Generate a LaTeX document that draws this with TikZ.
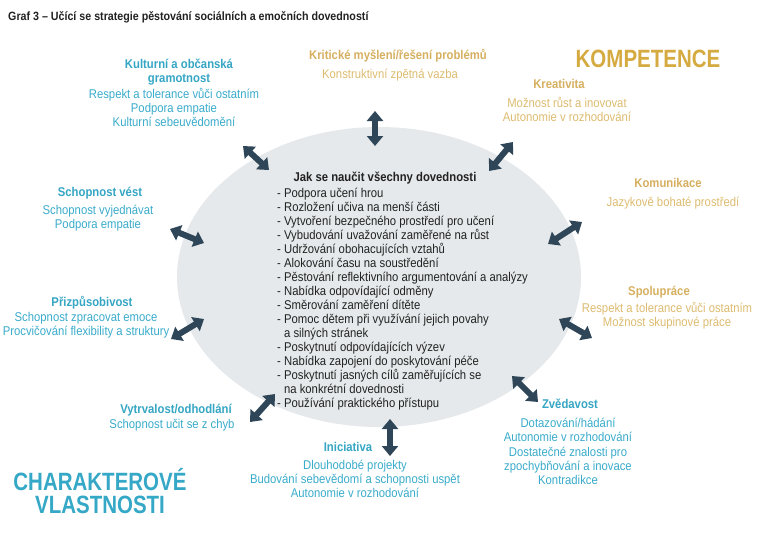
\documentclass[tikz,border=0pt]{standalone}
\usepackage{fontspec}
\setmainfont{Liberation Sans}[FakeStretch=0.89]
\newfontfamily\bigfont{Liberation Sans}[FakeStretch=0.82]
\usetikzlibrary{arrows.meta,shapes.geometric}
\definecolor{tealH}{HTML}{35A6C4}
\definecolor{tealT}{HTML}{3AACCB}
\definecolor{goldH}{HTML}{D6B060}
\definecolor{goldT}{HTML}{DDBC70}
\definecolor{goldBig}{HTML}{D5AA40}
\definecolor{tealBig}{HTML}{34A8C6}
\definecolor{ellfill}{HTML}{E5E9EB}
\definecolor{arrowc}{HTML}{2E4658}
\definecolor{darktext}{HTML}{222222}
\begin{document}
\begin{tikzpicture}[x=1pt,y=-1pt,
  txt/.style={inner sep=0pt, align=center, font=\fontsize{12.7}{14.2}\selectfont},
  thead/.style={txt, font=\fontsize{12.7}{14.2}\selectfont\bfseries, text=tealH},
  tbody/.style={txt, text=tealT},
  ghead/.style={txt, font=\fontsize{12.7}{14.2}\selectfont\bfseries, text=goldH},
  gbody/.style={txt, text=goldT},
  bigtitle/.style={inner sep=0pt, align=center, font=\bigfont\fontsize{25}{23}\selectfont\bfseries},
  dbl/.style={draw=arrowc, line width=6pt, {Triangle[length=10pt,width=16pt]}-{Triangle[length=10pt,width=16pt]}}
]
\fill[white] (0,0) rectangle (770,535);
\useasboundingbox (0,0) rectangle (770,535);

% central ellipse
\node[ellipse, fill=ellfill, minimum width=404pt, minimum height=300pt, inner sep=0pt] (core) at (379,277) {};

% title
\node[anchor=west, inner sep=0pt, font=\fontsize{12}{14}\selectfont\bfseries, text=darktext] (title) at (8,17)
  {Graf 3 – Učící se strategie pěstování sociálních a emočních dovedností};

% inner text
\node[inner sep=0pt, font=\fontsize{12.7}{14}\selectfont\bfseries, text=darktext] (jak) at (385,178) {Jak se naučit všechny dovednosti};
\node[anchor=west, inner sep=0pt, align=left, font=\fontsize{12.7}{14}\selectfont, text=darktext] (list) at (277,299)
  {- Podpora učení hrou\\
   - Rozložení učiva na menší části\\
   - Vytvoření bezpečného prostředí pro učení\\
   - Vybudování uvažování zaměřené na růst\\
   - Udržování obohacujících vztahů\\
   - Alokování času na soustředění\\
   - Pěstování reflektivního argumentování a analýzy\\
   - Nabídka odpovídající odměny\\
   - Směrování zaměření dítěte\\
   - Pomoc dětem při využívání jejich povahy\\
   \phantom{- }a silných stránek\\
   - Poskytnutí odpovídajících výzev\\
   - Nabídka zapojení do poskytování péče\\
   - Poskytnutí jasných cílů zaměřujících se\\
   \phantom{- }na konkrétní dovednosti\\
   - Používání praktického přístupu};

% big labels
\node[bigtitle, text=goldBig] (komp) at (648,59) {KOMPETENCE};
\node[bigtitle, text=tealBig] (char) at (100,491.5) {CHARAKTEROVÉ\\VLASTNOSTI};

% teal groups
\node[thead] (kulH) at (179,72) {Kulturní a občanská\\gramotnost};
\node[tbody] (kulB) at (174,107.5) {Respekt a tolerance vůči ostatním\\Podpora empatie\\Kulturní sebeuvědomění};
\node[thead] (vestH) at (100,193) {Schopnost vést};
\node[tbody] (vestB) at (98,218) {Schopnost vyjednávat\\Podpora empatie};
\node[thead] (prizH) at (92,303) {Přizpůsobivost};
\node[tbody] (prizB) at (86,325) {Schopnost zpracovat emoce\\Procvičování flexibility a struktury};
\node[thead] (vytH) at (176,410) {Vytrvalost/odhodlání};
\node[tbody] (vytB) at (172,425) {Schopnost učit se z chyb};
\node[thead] (iniH) at (348,447) {Iniciativa};
\node[tbody] (iniB) at (355,479) {Dlouhodobé projekty\\Budování sebevědomí a schopnosti uspět\\Autonomie v rozhodování};
\node[thead] (zveH) at (570,404) {Zvědavost};
\node[tbody] (zveB) at (568,451.5) {Dotazování/hádání\\Autonomie v rozhodování\\Dostatečné znalosti pro\\zpochybňování a inovace\\Kontradikce};

% gold groups
\node[ghead] (kritH) at (398,56) {Kritické myšlení/řešení problémů};
\node[gbody] (kritB) at (390,75) {Konstruktivní zpětná vazba};
\node[ghead] (kreH) at (559,84) {Kreativita};
\node[gbody] (kreB) at (567,109.5) {Možnost růst a inovovat\\Autonomie v rozhodování};
\node[ghead] (komH) at (668,183) {Komunikace};
\node[gbody] (komB) at (673,203) {Jazykově bohaté prostředí};
\node[ghead] (spoH) at (659,292) {Spolupráce};
\node[gbody] (spoB) at (667,315.5) {Respekt a tolerance vůči ostatním\\Možnost skupinové práce};

% arrow end points
\coordinate (a1s) at (375,111);  \coordinate (a1e) at (375,146);
\coordinate (a2s) at (243,146);  \coordinate (a2e) at (269,170);
\coordinate (a3s) at (513,142);  \coordinate (a3e) at (489,171);
\coordinate (a4s) at (170,229);  \coordinate (a4e) at (204,243);
\coordinate (a5s) at (171,339);  \coordinate (a5e) at (204,319);
\coordinate (a6s) at (250,422);  \coordinate (a6e) at (275,394);
\coordinate (a7s) at (390,419);  \coordinate (a7e) at (390,456);
\coordinate (a8s) at (512,376);  \coordinate (a8e) at (538,402);
\coordinate (a9s) at (559,319);  \coordinate (a9e) at (592,338);
\coordinate (a10s) at (548,244); \coordinate (a10e) at (582,222);

\foreach \i in {1,...,10} {\draw[dbl] (a\i s) -- (a\i e);}
\end{tikzpicture}
\end{document}
